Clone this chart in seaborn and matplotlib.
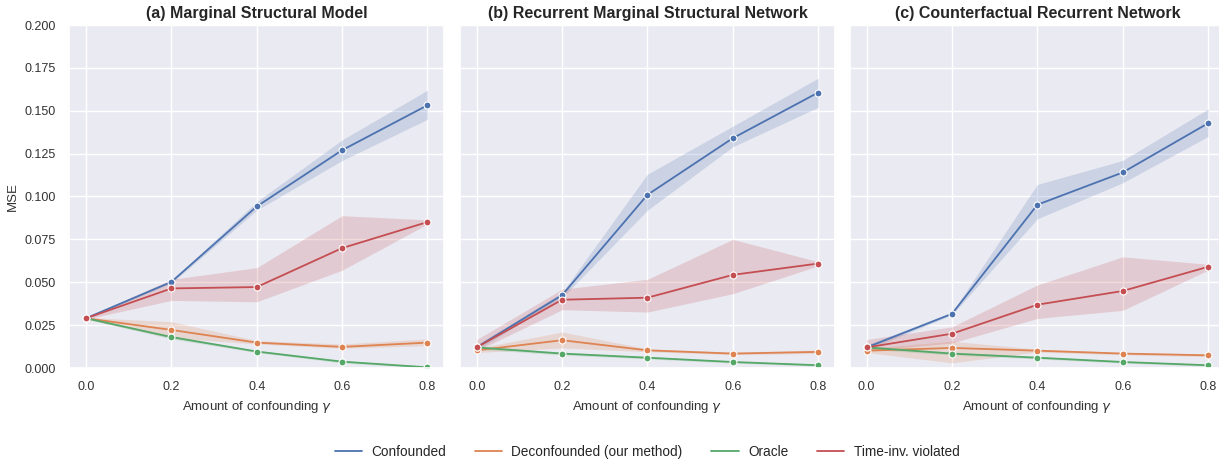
import numpy as np
import pandas as pd
import matplotlib
matplotlib.use("Agg")
import matplotlib.pyplot as plt
import seaborn as sns
from matplotlib.lines import Line2D

gamma = [0.0, 0.2, 0.4, 0.6, 0.8]
methods = ["Confounded", "Deconfounded (our method)", "Oracle", "Time-inv. violated"]
titles = ["(a) Marginal Structural Model",
          "(b) Recurrent Marginal Structural Network",
          "(c) Counterfactual Recurrent Network"]

# Panel (a)
msm_conf = [0.029, 0.0502, 0.0942, 0.127, 0.1532]
msm_conf_lo = [0.0285, 0.0495, 0.092, 0.121, 0.145]
msm_conf_hi = [0.0295, 0.051, 0.097, 0.133, 0.162]
msm_deconf = [0.029, 0.0222, 0.0148, 0.0123, 0.0148]
msm_deconf_lo = [0.0285, 0.0176, 0.014, 0.0115, 0.013]
msm_deconf_hi = [0.0295, 0.027, 0.016, 0.014, 0.017]
msm_oracle = [0.029, 0.018, 0.0096, 0.0037, 0.0004]
msm_oracle_lo = [0.0285, 0.017, 0.009, 0.003, 0.0]
msm_oracle_hi = [0.0295, 0.019, 0.0102, 0.0044, 0.0008]
msm_tiv = [0.029, 0.0464, 0.0472, 0.0699, 0.0851]
msm_tiv_lo = [0.0285, 0.0394, 0.0386, 0.057, 0.0839]
msm_tiv_hi = [0.0295, 0.0517, 0.0585, 0.0888, 0.0864]

# Panel (b)
rmsn_conf = [0.0121, 0.0425, 0.101, 0.134, 0.1606]
rmsn_conf_lo = [0.0105, 0.041, 0.092, 0.129, 0.152]
rmsn_conf_hi = [0.0135, 0.044, 0.113, 0.141, 0.169]
rmsn_deconf = [0.0103, 0.0162, 0.0103, 0.0084, 0.0094]
rmsn_deconf_lo = [0.009, 0.0117, 0.0095, 0.0078, 0.0085]
rmsn_deconf_hi = [0.0115, 0.021, 0.0112, 0.0092, 0.0105]
rmsn_oracle = [0.012, 0.0084, 0.006, 0.0035, 0.0016]
rmsn_oracle_lo = [0.011, 0.0076, 0.0053, 0.0029, 0.0011]
rmsn_oracle_hi = [0.013, 0.0092, 0.0067, 0.0041, 0.0021]
rmsn_tiv = [0.0121, 0.0398, 0.041, 0.0543, 0.0609]
rmsn_tiv_lo = [0.010, 0.034, 0.0326, 0.0433, 0.0595]
rmsn_tiv_hi = [0.0166, 0.046, 0.0517, 0.075, 0.062]

# Panel (c)
crn_conf = [0.012, 0.0316, 0.0952, 0.114, 0.1427]
crn_conf_lo = [0.0105, 0.031, 0.087, 0.108, 0.135]
crn_conf_hi = [0.0135, 0.0325, 0.107, 0.121, 0.151]
crn_deconf = [0.0101, 0.0117, 0.0101, 0.0084, 0.0074]
crn_deconf_lo = [0.009, 0.003, 0.0093, 0.0077, 0.0066]
crn_deconf_hi = [0.0115, 0.0156, 0.011, 0.0091, 0.0082]
crn_oracle = [0.012, 0.0084, 0.006, 0.0035, 0.0016]
crn_oracle_lo = [0.011, 0.0076, 0.0053, 0.0029, 0.0011]
crn_oracle_hi = [0.013, 0.0092, 0.0067, 0.0041, 0.0021]
crn_tiv = [0.012, 0.020, 0.0369, 0.0449, 0.059]
crn_tiv_lo = [0.010, 0.0146, 0.0289, 0.0336, 0.057]
crn_tiv_hi = [0.0166, 0.024, 0.0484, 0.0648, 0.0605]

panels = [
    [(msm_conf, msm_conf_lo, msm_conf_hi), (msm_deconf, msm_deconf_lo, msm_deconf_hi),
     (msm_oracle, msm_oracle_lo, msm_oracle_hi), (msm_tiv, msm_tiv_lo, msm_tiv_hi)],
    [(rmsn_conf, rmsn_conf_lo, rmsn_conf_hi), (rmsn_deconf, rmsn_deconf_lo, rmsn_deconf_hi),
     (rmsn_oracle, rmsn_oracle_lo, rmsn_oracle_hi), (rmsn_tiv, rmsn_tiv_lo, rmsn_tiv_hi)],
    [(crn_conf, crn_conf_lo, crn_conf_hi), (crn_deconf, crn_deconf_lo, crn_deconf_hi),
     (crn_oracle, crn_oracle_lo, crn_oracle_hi), (crn_tiv, crn_tiv_lo, crn_tiv_hi)],
]

sns.set_theme(style="darkgrid")
plt.rcParams['font.family'] = ['Liberation Sans', 'DejaVu Sans']
palette = sns.color_palette("deep")
colors = [palette[0], palette[1], palette[2], palette[3]]

W, H = 1219, 461
fig = plt.figure(figsize=(W / 100, H / 100), dpi=100)
ax_w = 375.5 / W
lefts = [69 / W, 459.7 / W, 849.6 / W]
bottom = 1 - 368 / H
height = (368 - 25) / H
axes = []
for i, l in enumerate(lefts):
    ax = fig.add_axes([l, bottom, ax_w, height], sharey=axes[0] if axes else None)
    axes.append(ax)

for i, ax in enumerate(axes):
    for j, (m, lo, hi) in enumerate(panels[i]):
        df = pd.DataFrame({"gamma": gamma, "MSE": m})
        sns.lineplot(data=df, x="gamma", y="MSE", ax=ax, color=colors[j], marker="o",
                     markersize=5, markeredgewidth=0.8, linewidth=1.3)
        ax.fill_between(gamma, lo, hi, color=colors[j], alpha=0.2, linewidth=0)
    ax.set_ylim(0, 0.2)
    ax.set_xlim(-0.04, 0.84)
    ax.set_xticks(gamma)
    ax.set_xticklabels(["0.0", "0.2", "0.4", "0.6", "0.8"])
    ax.set_yticks(np.arange(0, 0.2001, 0.025))
    ax.tick_params(labelsize=9, colors="#333333")
    ax.set_xlabel("Amount of confounding $\\gamma$", fontsize=9.5, color="#333333")
    ax.set_title(titles[i], fontsize=11.5, fontweight="bold", color="#262626", pad=5)
    if i == 0:
        ax.set_ylabel("MSE", fontsize=9.5, color="#333333")
        ax.set_yticklabels([f"{v:.3f}" for v in np.arange(0, 0.2001, 0.025)])
    else:
        ax.set_ylabel("")
        ax.tick_params(labelleft=False)

leg_handles = [Line2D([0], [0], color=c, linewidth=1.3) for c in colors]
fig.legend(leg_handles, methods, loc="center", bbox_to_anchor=(647 / W, 1 - 452 / H),
           ncol=4, frameon=False, fontsize=9.8, handlelength=2.0, columnspacing=2.1,
           handletextpad=0.7)

fig.savefig("out.png", dpi=100)
